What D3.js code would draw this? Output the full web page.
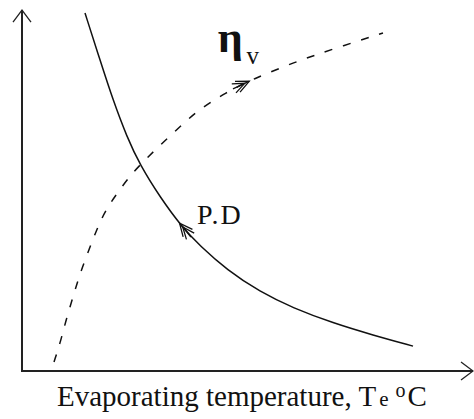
<!DOCTYPE html>
<html>
<head>
<meta charset="utf-8">
<script src="https://cdn.jsdelivr.net/npm/d3@7"></script>
<style>
  body { margin: 0; background: #fff; }
  text { font-family: "Liberation Serif", "DejaVu Serif", serif; fill: #111; }
</style>
</head>
<body>
<script>
// dimensioni
var width = 474, height = 419;

// curva P.D (pressione di scarico) - unità arbitrarie 0..100
var pdX = [13.97, 17.29, 20.18, 23.28, 26.16, 30.60, 35.48, 39.47, 45.45, 52.77, 60.09, 68.96, 77.83, 86.70];
var pdY = [97.8, 85.0, 74.0, 63.9, 56.3, 47.5, 39.3, 34.2, 27.6, 21.6, 17.2, 13.1, 9.8, 6.8];

// curva rendimento volumetrico eta_v
var etaX = [7.10, 8.65, 9.76, 11.31, 12.42, 13.97, 15.52, 17.07, 18.85, 21.29, 23.95, 26.16, 29.49, 32.82, 36.14, 39.47, 45.01, 51.22, 60.53, 68.96, 80.04];
var etaY = [2.46, 8.47, 13.93, 20.22, 24.86, 30.33, 35.25, 40.16, 44.54, 48.91, 53.28, 56.28, 60.38, 64.21, 68.03, 71.58, 75.96, 79.78, 84.43, 87.98, 92.35];

var xLabel = "Evaporating temperature, T";

var svg = d3.select("body").append("svg")
    .attr("width", width)
    .attr("height", height);

// scale
var xScale = d3.scaleLinear().domain([0, 100]).range([22, 473]);
var yScale = d3.scaleLinear().domain([0, 100]).range([371, 5]);

// assi con frecce
var ax = svg.append("g").attr("stroke", "#222").attr("stroke-width", 2).attr("fill", "none");
ax.append("path").attr("d", d3.line()([[xScale(0), yScale(98.6)], [xScale(0), yScale(0)], [xScale(100), yScale(0)]]));
ax.append("path").attr("stroke-width", 1.3)
    .attr("d", d3.line()([[xScale(0) - 9, yScale(98.6) + 12], [xScale(0), yScale(98.6)], [xScale(0) + 9, yScale(98.6) + 12]]));
ax.append("path").attr("stroke-width", 1.3)
    .attr("d", d3.line()([[xScale(100) - 12, yScale(0) - 9], [xScale(100), yScale(0)], [xScale(100) - 12, yScale(0) + 9]]));

var line = d3.line()
    .x(function (d) { return xScale(d[0]); })
    .y(function (d) { return yScale(d[1]); })
    .curve(d3.curveBasis);

var pdPath = svg.append("path")
    .datum(d3.zip(pdX, pdY))
    .attr("d", line)
    .attr("fill", "none")
    .attr("stroke", "#111")
    .attr("stroke-width", 1.5);

var etaPath = svg.append("path")
    .datum(d3.zip(etaX, etaY))
    .attr("d", line)
    .attr("fill", "none")
    .attr("stroke", "#111")
    .attr("stroke-width", 1.5)
    .attr("stroke-dasharray", "8,11");

// freccia sulla curva
function arrow(path, len, dir) {
    var node = path.node();
    var p = node.getPointAtLength(len);
    var q = node.getPointAtLength(len - 4 * dir);
    var a = Math.atan2(p.y - q.y, p.x - q.x);
    var g = svg.append("g").attr("stroke", "#111").attr("stroke-width", 1.3).attr("fill", "none")
        .attr("transform", "translate(" + p.x + "," + p.y + ") rotate(" + (a * 180 / Math.PI) + ")");
    g.append("path").attr("d", "M-13,-6 L0,0 L-13,6");
    g.append("path").attr("d", "M-17,-5 L-5,0 L-17,5");
    g.append("path").attr("d", "M-18,0 L0,0");
}

// posizione frecce: punto più vicino al valore scelto
function lengthAt(path, px) {
    var node = path.node(), L = node.getTotalLength(), best = 0, bd = 1e9;
    for (var l = 0; l < L; l += 1) {
        var pt = node.getPointAtLength(l);
        var d = Math.abs(pt.x - px);
        if (d < bd) { bd = d; best = l; }
    }
    return best;
}
arrow(etaPath, lengthAt(etaPath, xScale(50.4)), 1);
arrow(pdPath, lengthAt(pdPath, xScale(35.0)), -1);

// etichette
svg.append("text").attr("x", xScale(43.4)).attr("y", yScale(87.2))
    .style("font-size", "44px").style("font-weight", "bold").text("η");
svg.append("text").attr("x", xScale(49.8)).attr("y", yScale(84.0))
    .style("font-size", "25px").text("v");

svg.append("text").attr("x", xScale(38.8)).attr("y", yScale(40.3))
    .style("font-size", "28px").style("letter-spacing", "2px").text("P.D");

var t = svg.append("text").attr("x", 57).attr("y", 406).style("font-size", "29px");
t.append("tspan").text(xLabel);
t.append("tspan").attr("dx", 3).style("font-size", "21px").text("e");
t.append("tspan").attr("dy", -9).attr("dx", 7).style("font-size", "20px").text("o");
t.append("tspan").attr("dy", 9).attr("dx", 2).text("C");
</script>
</body>
</html>
